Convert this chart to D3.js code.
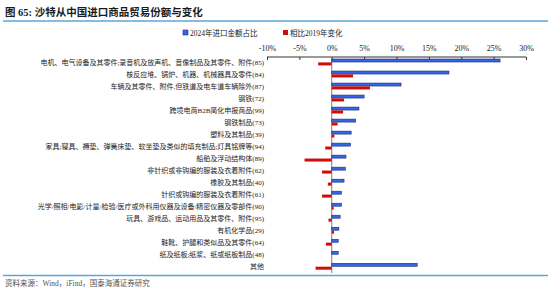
<!DOCTYPE html>
<html lang="zh">
<head>
<meta charset="UTF-8" />
<title>沙特从中国进口商品贸易份额与变化</title>
<style>
  body { margin: 0; background: #fff; }
  .chart text { font-family: "Liberation Serif", "Noto Sans CJK SC", serif; }
</style>
</head>
<body>
<div class="chart"></div>
<script src="https://cdn.jsdelivr.net/npm/d3@7/dist/d3.min.js"></script>
<script>
var categories = [
  "电机、电气设备及其零件;录音机及放声机、音像制品及其零件、附件(85)",
  "核反应堆、锅炉、机器、机械器具及零件(84)",
  "车辆及其零件、附件,但铁道及电车道车辆除外(87)",
  "钢铁(72)",
  "跨境电商B2B简化申报商品(99)",
  "钢铁制品(73)",
  "塑料及其制品(39)",
  "家具;寝具、褥垫、弹簧床垫、软坐垫及类似的填充制品;灯具铭牌等(94)",
  "船舶及浮动结构体(89)",
  "非针织或非钩编的服装及衣着附件(62)",
  "橡胶及其制品(40)",
  "针织或钩编的服装及衣着附件(61)",
  "光学/照相/电影/计量/检验/医疗或外科用仪器及设备/精密仪器及零部件(90)",
  "玩具、游戏品、运动用品及其零件、附件(95)",
  "有机化学品(29)",
  "鞋靴、护腿和类似品及其零件(64)",
  "纸及纸板;纸浆、纸或纸板制品(48)",
  "其他"
];
var share2024 = [26.0, 18.1, 10.7, 5.0, 4.2, 3.7, 3.0, 2.9, 2.2, 2.1, 1.9, 1.5, 1.5, 1.3, 1.1, 1.0, 1.0, 13.2];
var change2019 = [-2.1, 3.3, 5.9, 1.9, 1.75, 0.9, 0.4, -1.0, -4.2, -1.5, -0.6, -1.5, 0.3, -0.5, 0.35, -0.9, 0.0, -2.5];
var xTicks = [-10, -5, 0, 5, 10, 15, 20, 25, 30];
var seriesNames = ["2024年进口金额占比", "相比2019年变化"];

var width = 550, height = 291;
var blue = "#3366e6", blueEdge = "#1b2f78", red = "#d10a0a";

var svg = d3.select(".chart").append("svg")
  .attr("width", width).attr("height", height);

// title
svg.append("text").attr("x", 5).attr("y", 16)
  .attr("font-size", 10.5).attr("font-weight", "bold").attr("fill", "#1a1a1a")
  .text("图 65:  沙特从中国进口商品贸易份额与变化");
svg.append("line").attr("x1", 3).attr("x2", 548).attr("y1", 21).attr("y2", 21)
  .attr("stroke", "#5aa6dc").attr("stroke-width", 1.5);

var x = d3.scaleLinear().domain([-10, 30]).range([267, 526]);
var y = d3.scaleBand().domain(categories).range([56.2, 272.5]);

// axis
var axis = svg.append("g").attr("transform", "translate(0,57)")
  .call(d3.axisTop(x).tickValues(xTicks).tickSize(-3).tickPadding(6)
    .tickFormat(function(d) { return d + "%"; }));
axis.select(".domain").attr("stroke", "#333").attr("d", "M267,0H526");
axis.selectAll(".tick line").attr("stroke", "#333");
axis.selectAll("text").attr("font-size", 8).attr("fill", "#222");

// zero line
svg.append("line").attr("x1", x(0)).attr("x2", x(0)).attr("y1", 57).attr("y2", 273)
  .attr("stroke", "#7f7f7f").attr("stroke-width", 1);

// bars
var rows = svg.append("g");
rows.selectAll("rect.blue").data(share2024).enter().append("rect")
  .attr("class", "blue")
  .attr("x", function(d) { return x(Math.min(0, d)); })
  .attr("width", function(d) { return Math.abs(x(d) - x(0)); })
  .attr("y", function(d, i) { return y(categories[i]) + y.bandwidth() / 2 - 3.2; })
  .attr("height", 3)
  .attr("fill", blue).attr("stroke", blueEdge).attr("stroke-width", 0.6);
rows.selectAll("rect.red").data(change2019).enter().append("rect")
  .attr("class", "red")
  .attr("x", function(d) { return x(Math.min(0, d)); })
  .attr("width", function(d) { return Math.abs(x(d) - x(0)); })
  .attr("y", function(d, i) { return y(categories[i]) + y.bandwidth() / 2 + 0.2; })
  .attr("height", 3)
  .attr("fill", red);

// category labels
svg.append("g").selectAll("text").data(categories).enter().append("text")
  .attr("x", 264)
  .attr("y", function(d) { return y(d) + y.bandwidth() / 2 + 2.5; })
  .attr("text-anchor", "end").attr("font-size", 7).attr("fill", "#222")
  .text(function(d) { return d; });

// legend
var legend = svg.append("g");
var legendX = [183, 283];
legend.selectAll("rect").data(seriesNames).enter().append("rect")
  .attr("x", function(d, i) { return legendX[i]; }).attr("y", 30)
  .attr("width", 5).attr("height", 5)
  .attr("fill", function(d, i) { return i ? red : blue; })
  .attr("stroke", function(d, i) { return i ? "none" : blueEdge; })
  .attr("stroke-width", 0.6);
legend.selectAll("text").data(seriesNames).enter().append("text")
  .attr("x", function(d, i) { return legendX[i] + 7; }).attr("y", 35.5)
  .attr("font-size", 7.5).attr("fill", "#222")
  .text(function(d) { return d; });

// footer
svg.append("line").attr("x1", 3).attr("x2", 548).attr("y1", 275.5).attr("y2", 275.5)
  .attr("stroke", "#5aa6dc").attr("stroke-width", 1.5);
svg.append("text").attr("x", 5).attr("y", 286)
  .attr("font-size", 7.5).attr("fill", "#555")
  .text("资料来源：Wind，iFind，国泰海通证券研究");
</script>
</body>
</html>
